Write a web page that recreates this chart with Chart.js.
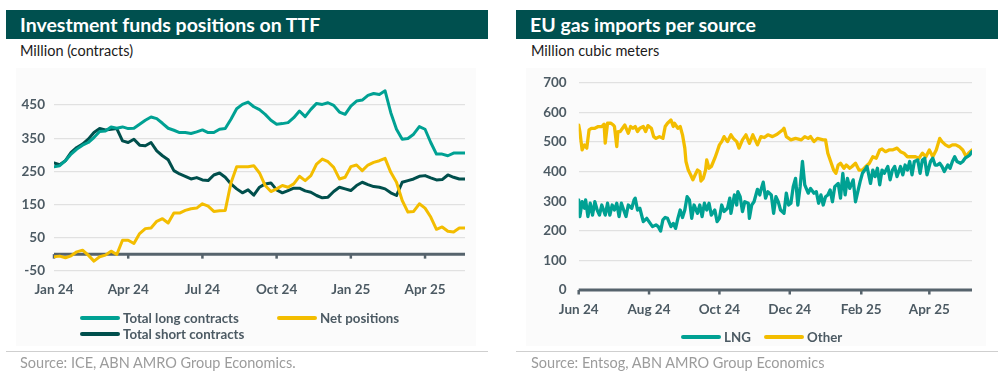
<!DOCTYPE html>
<html>
<head>
<meta charset="utf-8">
<script src="https://cdn.jsdelivr.net/npm/chart.js@4.4.1/dist/chart.umd.min.js"></script>
<style>
  html, body { margin:0; padding:0; background:#ffffff; }
  body { width:1006px; height:383px; position:relative; overflow:hidden; font-family:"Lato","Open Sans",sans-serif; }
  .abs { position:absolute; }
  .hdr { background:#00504f; color:#ffffff; font-weight:700; font-size:19.5px; height:29px; line-height:29px; padding-left:14px; box-sizing:border-box; }
  .sub { font-size:14.5px; color:#1b1b1b; }
  .panel { background:#fbfbfb; }
  .sep { height:1px; background:#cfcfcf; }
  .src { font-size:14.5px; color:#9c9c9c; }
  .leg { font-size:13.3px; font-weight:700; color:#4c5a63; white-space:nowrap; }
  .leg .item { position:absolute; display:flex; align-items:center; }
  .leg .sw { width:40px; height:4px; border-radius:2px; margin-right:3px; }
</style>
</head>
<body>
<!-- left panel -->
<div class="abs hdr" style="left:6px;top:10px;width:482px;">Investment funds positions on TTF</div>
<div class="abs sub" style="left:20px;top:42px;">Million (contracts)</div>
<div class="abs panel" style="left:16px;top:68px;width:460px;height:278px;"></div>
<canvas id="c1" class="abs" style="left:6px;top:60px;" width="482" height="250"></canvas>
<div id="leg1" class="abs leg" style="left:0;top:0;width:500px;height:383px;"></div>
<div class="abs sep" style="left:6px;top:351px;width:482px;"></div>
<div class="abs src" style="left:20px;top:354px;">Source: ICE, ABN AMRO Group Economics.</div>

<!-- right panel -->
<div class="abs hdr" style="left:516px;top:10px;width:482px;">EU gas imports per source</div>
<div class="abs sub" style="left:531px;top:42px;">Million cubic meters</div>
<div class="abs panel" style="left:526px;top:68px;width:460px;height:278px;"></div>
<canvas id="c2" class="abs" style="left:516px;top:60px;" width="482" height="270"></canvas>
<div id="leg2" class="abs leg" style="left:0;top:0;width:1006px;height:383px;"></div>
<div class="abs sep" style="left:516px;top:351px;width:482px;"></div>
<div class="abs src" style="left:531px;top:354px;">Source: Entsog, ABN AMRO Group Economics</div>

<script>
// ---------- DATA: left chart (weekly, week 0 = first week of Jan 2024) ----------
const longContracts = [264,267,282,302,317,329,337,352,370,372,384,380,384,379,380,392,404,414,409,395,380,374,367,367,364,369,375,367,367,377,379,407,439,452,459,445,436,422,404,392,394,397,412,432,415,437,455,452,457,449,429,422,447,462,465,479,485,482,493,427,377,347,349,362,385,377,337,302,302,297,305,305,305];
const shortContracts = [275,270,282,307,322,332,347,367,379,375,377,379,342,337,347,329,327,337,312,297,285,252,242,235,227,231,224,222,239,245,232,212,197,185,194,178,202,212,215,194,185,192,199,199,191,187,177,170,172,189,202,197,192,207,217,210,204,202,197,185,177,217,222,227,235,237,230,224,225,239,232,227,227];
const netPositions = [-8,-6,-11,-5,7,12,-3,-21,-8,-3,9,-1,42,42,32,62,77,79,99,107,94,124,124,132,137,139,152,145,129,131,132,215,264,264,264,267,245,207,189,197,207,202,212,235,222,237,272,287,279,262,227,232,264,269,252,269,277,282,289,247,217,162,127,129,152,139,112,75,82,69,67,79,79];
const leftTickWeeks = [0,13,26,39,52,65];
const leftTickLabels = ['Jan 24','Apr 24','Jul 24','Oct 24','Jan 25','Apr 25'];
const leftYTicks = [-50,50,150,250,350,450];

// ---------- DATA: right chart (daily, day 0 = 1 Jun 2024) ----------
const otherDays = [0,1,3,5,7,9,11,14,17,20,22,23,25,28,30,31,33,34,36,38,40,43,45,47,49,51,53,56,58,60,63,65,67,70,73,75,77,80,82,83,86,88,90,92,93,95,97,99,101,103,105,106,108,110,111,113,115,118,120,122,124,126,129,132,134,137,139,142,145,148,151,153,155,158,161,164,168,172,177,178,180,184,188,193,196,199,201,204,207,212,214,216,219,221,223,225,227,230,232,235,237,240,243,246,249,252,255,258,261,263,266,269,272,276,279,282,285,289,292,295,298,301,304,307,310,313,315,318,321,324,327,330,333,336,338,341];
const otherValues = [557,535,473,490,479,541,546,546,552,552,560,496,563,563,557,552,484,535,535,546,557,529,552,546,552,535,546,552,535,555,546,518,512,518,512,552,563,574,552,563,546,552,524,479,434,405,389,372,389,405,400,368,377,405,439,411,417,445,467,490,501,518,501,524,512,501,479,507,524,495,524,507,490,518,515,524,518,526,541,546,518,507,512,507,518,512,518,501,512,507,507,462,428,405,394,422,428,411,422,411,417,428,405,405,417,428,450,445,473,476,467,473,473,479,467,462,450,450,450,445,462,450,473,450,473,512,501,490,484,490,490,484,473,450,462,473];
const lngDays = [0,1,3,5,6,8,10,12,14,16,18,20,23,25,27,29,31,33,35,37,39,41,43,46,48,49,51,53,56,59,62,64,67,69,71,73,75,77,80,82,84,86,88,90,92,94,96,98,100,103,105,107,109,111,113,115,118,120,122,124,126,129,131,132,135,137,138,140,142,144,147,148,150,152,155,157,158,160,162,164,167,169,171,173,175,178,180,182,184,186,188,190,192,194,196,199,201,204,206,208,210,212,214,216,218,220,222,225,227,229,231,233,235,238,240,242,244,246,248,250,253,255,257,259,261,263,265,268,270,272,274,276,279,281,283,285,287,289,291,294,296,298,300,302,305,307,309,311,313,315,317,320,322,324,326,328,331,333,335,337,339,341];
const lngValues = [304,248,298,276,304,248,293,253,298,270,253,287,253,293,253,287,270,293,248,293,270,248,287,276,304,310,270,276,231,242,225,214,220,214,199,237,245,242,214,225,208,242,270,245,270,315,304,242,287,259,287,248,293,270,293,253,270,231,242,287,265,276,310,259,321,287,332,315,265,298,293,242,287,298,340,321,338,364,310,332,321,259,315,298,270,259,327,287,293,349,377,287,349,434,355,327,343,327,332,293,321,287,315,321,338,298,349,360,310,394,321,377,343,372,298,332,366,394,405,417,360,405,383,411,355,405,394,417,372,405,417,383,417,389,422,405,434,389,434,439,394,439,445,389,434,445,422,422,428,417,400,422,411,434,450,434,428,434,445,450,456,467];
const rightTickDays = [0,61,122,183,245,304];
const rightTickLabels = ['Jun 24','Aug 24','Oct 24','Dec 24','Feb 25','Apr 25'];
const rightYTicks = [0,100,200,300,400,500,600,700];

// ---------- styling ----------
const TEAL = '#00a193', DARK = '#004f4c', YELLOW = '#f3bd00';
const TICK_COLOR = '#4c5a63', GRID = '#e1e1e1', AXIS = '#56636c';
const tickFont = { family: 'Lato', size: 13.5, weight: 'bold' };

const zeroAxis = {
  id: 'zeroAxis',
  beforeDatasetsDraw(chart) {
    const { ctx, chartArea, scales } = chart;
    const y0 = scales.y.getPixelForValue(0);
    ctx.save();
    ctx.strokeStyle = AXIS;
    ctx.lineWidth = 3;
    ctx.beginPath();
    ctx.moveTo(chartArea.left, y0);
    ctx.lineTo(chartArea.right, y0);
    ctx.stroke();
    ctx.lineWidth = 2.5;
    scales.x.ticks.forEach(t => {
      const x = scales.x.getPixelForValue(t.value);
      ctx.beginPath();
      ctx.moveTo(x, y0);
      ctx.lineTo(x, y0 + 4.5);
      ctx.stroke();
    });
    ctx.restore();
  }
};

function toPoints(xs, ys) { return ys.map((v, i) => ({ x: xs[i], y: v })); }

function makeChart(id, cfg) {
  return new Chart(document.getElementById(id), {
    type: 'line',
    data: { datasets: cfg.datasets },
    plugins: [zeroAxis],
    options: {
      responsive: false,
      devicePixelRatio: 1,
      animation: false,
      layout: { padding: cfg.padding },
      elements: { point: { radius: 0 }, line: { borderWidth: cfg.lineWidth, tension: 0, borderJoinStyle: 'round', borderCapStyle: 'round' } },
      plugins: { legend: { display: false }, tooltip: { enabled: false } },
      scales: {
        x: {
          type: 'linear', min: cfg.xMin, max: cfg.xMax,
          grid: { display: false, drawTicks: false },
          border: { display: false },
          afterBuildTicks: s => { s.ticks = cfg.xTicks.map(v => ({ value: v })); },
          ticks: { autoSkip: false, maxRotation: 0, padding: cfg.xPad, color: TICK_COLOR, font: tickFont,
                   callback: v => cfg.xLabels[cfg.xTicks.indexOf(v)] },
          afterFit: s => { s.height = cfg.xHeight; }
        },
        y: {
          min: cfg.yMin, max: cfg.yMax,
          grid: { color: GRID, lineWidth: 1.2, drawTicks: false },
          border: { display: false },
          afterBuildTicks: s => { s.ticks = cfg.yTicks.map(v => ({ value: v })); },
          ticks: { padding: cfg.yPad, color: TICK_COLOR, font: tickFont },
          afterFit: s => { s.width = cfg.yWidth; }
        }
      }
    }
  });
}

const chart1 = makeChart('c1', {
  datasets: [
    { label: 'Total long contracts', data: longContracts.map((v, i) => ({ x: i, y: v })), borderColor: TEAL, backgroundColor: TEAL },
    { label: 'Net positions', data: netPositions.map((v, i) => ({ x: i, y: v })), borderColor: YELLOW, backgroundColor: YELLOW },
    { label: 'Total short contracts', data: shortContracts.map((v, i) => ({ x: i, y: v })), borderColor: DARK, backgroundColor: DARK }
  ],
  padding: { left: 0, right: 23, top: 28.5, bottom: 0 },
  lineWidth: 3,
  xMin: 0, xMax: longContracts.length - 1, xTicks: leftTickWeeks, xLabels: leftTickLabels, xPad: 11, xHeight: 39.3,
  yMin: -50, yMax: 500, yTicks: leftYTicks, yPad: 9, yWidth: 48
});

const chart2 = makeChart('c2', {
  datasets: [
    { label: 'LNG', data: toPoints(lngDays, lngValues), borderColor: TEAL, backgroundColor: TEAL },
    { label: 'Other', data: toPoints(otherDays, otherValues), borderColor: YELLOW, backgroundColor: YELLOW }
  ],
  padding: { left: 0, right: 26, top: 22.7, bottom: 0 },
  lineWidth: 3.3,
  xMin: 0, xMax: 341, xTicks: rightTickDays, xLabels: rightTickLabels, xPad: 11.7, xHeight: 40,
  yMin: 0, yMax: 700, yTicks: rightYTicks, yPad: 12, yWidth: 62.7
});

// ---------- HTML legends built from the chart datasets ----------
function buildLegend(el, chart, spots) {
  chart.data.datasets.forEach((ds, i) => {
    const it = document.createElement('div');
    it.className = 'item';
    it.style.left = spots[i][0] + 'px';
    it.style.top = (spots[i][1] - 8) + 'px';
    it.style.height = '16px';
    const sw = document.createElement('span');
    sw.className = 'sw';
    sw.style.background = ds.borderColor;
    const tx = document.createElement('span');
    tx.textContent = ds.label;
    it.appendChild(sw); it.appendChild(tx);
    el.appendChild(it);
  });
}
buildLegend(document.getElementById('leg1'), chart1, [[80, 318], [277, 318], [80, 334]]);
buildLegend(document.getElementById('leg2'), chart2, [[681, 337], [764, 337]]);
</script>
</body>
</html>
